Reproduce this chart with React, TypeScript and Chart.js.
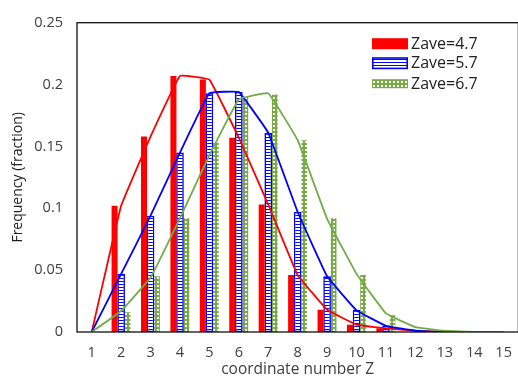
import React, { useEffect, useRef } from "react";
import { Chart, registerables } from "chart.js";

Chart.register(...registerables);

// Coordination number categories
const zLabels = ["1", "2", "3", "4", "5", "6", "7", "8", "9", "10", "11", "12", "13", "14", "15"];

// Histogram bars (fraction of particles with coordination number Z)
const barZ47 = [null, 0.102, 0.158, 0.207, 0.204, 0.157, 0.103, 0.046, 0.018, 0.0058, 0.003, null, null, null, null];
const barZ57 = [null, 0.047, 0.094, 0.145, 0.193, 0.194, 0.161, 0.097, 0.045, 0.018, 0.005, null, null, null, null];
const barZ67 = [null, 0.016, 0.045, 0.092, 0.153, 0.190, 0.192, 0.155, 0.092, 0.046, 0.0135, null, null, null, null];

// Smoothed distribution curves
const curveZ47 = [0, 0.102, 0.158, 0.207, 0.204, 0.157, 0.103, 0.046, 0.018, 0.006, 0.003, 0.001, 0, 0, 0];
const curveZ57 = [0, 0.047, 0.094, 0.145, 0.193, 0.194, 0.161, 0.097, 0.045, 0.0175, 0.005, 0.001, 0, 0, 0];
const curveZ67 = [0, 0.017, 0.044, 0.092, 0.143, 0.188, 0.193, 0.155, 0.0915, 0.047, 0.015, 0.004, 0.001, 0, 0];

const yTicks = [0, 0.05, 0.1, 0.15, 0.2, 0.25];
const seriesNames = ["Zave=4.7", "Zave=5.7", "Zave=6.7"];

const RED = "#ff0000";
const BLUE = "#0000ff";
const GREEN_BAR = "#78ab45";
const GREEN_LINE = "#70ad47";
const FONT = "'Open Sans', 'Liberation Sans', sans-serif";
const TEXT = "#404040";

function makeTile(w: number, h: number, draw: (c: CanvasRenderingContext2D) => void) {
  const cv = document.createElement("canvas");
  cv.width = w;
  cv.height = h;
  const c = cv.getContext("2d")!;
  draw(c);
  return cv;
}

// White horizontal dashes on blue
function stripePattern(ctx: CanvasRenderingContext2D) {
  const tile = makeTile(1, 3, (c) => {
    c.fillStyle = "#ffffff";
    c.fillRect(0, 0, 1, 2);
    c.fillStyle = BLUE;
    c.fillRect(0, 2, 1, 1);
  });
  return ctx.createPattern(tile, "repeat")!;
}

// Green lattice with small white holes
function checkerPattern(ctx: CanvasRenderingContext2D) {
  const tile = makeTile(4, 4, (c) => {
    c.fillStyle = GREEN_BAR;
    c.fillRect(0, 0, 4, 4);
    c.fillStyle = "#ffffff";
    c.fillRect(1, 1, 2, 2);
  });
  return ctx.createPattern(tile, "repeat")!;
}

export default function App() {
  const ref = useRef<HTMLCanvasElement | null>(null);

  useEffect(() => {
    const canvas = ref.current!;
    const ctx = canvas.getContext("2d")!;
    const stripes = stripePattern(ctx);
    const checker = checkerPattern(ctx);

    const frame = {
      id: "frame",
      afterDraw(chart: any) {
        const { ctx: c, chartArea: a } = chart;
        c.save();
        c.strokeStyle = "#111111";
        c.lineWidth = 1.3;
        c.strokeRect(a.left, a.top, a.right - a.left, a.bottom - a.top);
        c.restore();
      },
    };

    const legendBox = {
      id: "legendBox",
      afterDraw(chart: any) {
        const c: CanvasRenderingContext2D = chart.ctx;
        const a = chart.chartArea;
        const x0 = a.left + 295;
        const rows = [a.top + 21, a.top + 40.5, a.top + 61];
        c.save();
        c.fillStyle = RED;
        c.fillRect(x0, rows[0] - 5.5, 36, 11);
        c.fillStyle = stripes;
        c.fillRect(x0, rows[1] - 6, 36, 12);
        c.strokeStyle = BLUE;
        c.lineWidth = 1.6;
        c.strokeRect(x0 + 0.8, rows[1] - 5.2, 34.4, 10.4);
        c.fillStyle = checker;
        c.fillRect(x0, rows[2] - 4.5, 36, 9);
        c.fillStyle = "#222222";
        c.font = `16px ${FONT}`;
        c.textBaseline = "middle";
        c.textAlign = "left";
        seriesNames.forEach((n, i) => c.fillText(n, x0 + 39, rows[i] + 0.5));
        c.restore();
      },
    };

    const barGroup = 0.668;

    const chart = new Chart(canvas, {
      type: "bar",
      data: {
        labels: zLabels,
        datasets: [
          {
            type: "bar",
            label: seriesNames[0],
            data: barZ47 as any,
            backgroundColor: RED,
            borderWidth: 0,
            barPercentage: 0.92,
            categoryPercentage: barGroup,
            order: 10,
          },
          {
            type: "bar",
            label: seriesNames[1],
            data: barZ57 as any,
            backgroundColor: stripes,
            borderColor: BLUE,
            borderWidth: 1.6,
            borderSkipped: false,
            barPercentage: 1.17,
            categoryPercentage: barGroup,
            order: 10,
          },
          {
            type: "bar",
            label: seriesNames[2],
            data: barZ67 as any,
            backgroundColor: checker,
            borderWidth: 0,
            barPercentage: 0.86,
            categoryPercentage: barGroup,
            order: 10,
          },
          {
            type: "line",
            label: seriesNames[0] + " curve",
            data: curveZ47,
            borderColor: RED,
            borderWidth: 1.8,
            pointRadius: 0,
            tension: 0.07,
            fill: false,
            order: 3,
          },
          {
            type: "line",
            label: seriesNames[1] + " curve",
            data: curveZ57,
            borderColor: BLUE,
            borderWidth: 1.8,
            pointRadius: 0,
            tension: 0.07,
            fill: false,
            order: 2,
          },
          {
            type: "line",
            label: seriesNames[2] + " curve",
            data: curveZ67,
            borderColor: GREEN_LINE,
            borderWidth: 1.8,
            pointRadius: 0,
            tension: 0.07,
            fill: false,
            order: 1,
          },
        ],
      },
      options: {
        responsive: false,
        animation: false,
        devicePixelRatio: 1,
        layout: { padding: { top: 17, right: 2, left: 0, bottom: 0 } },
        plugins: {
          legend: { display: false },
          tooltip: { enabled: false },
        },
        scales: {
          x: {
            type: "category",
            offset: true,
            grid: { display: false, drawTicks: false },
            border: { display: false },
            ticks: {
              autoSkip: false,
              maxRotation: 0,
              padding: 12,
              color: TEXT,
              font: { family: FONT, size: 14.5 },
            },
            title: {
              display: true,
              text: "coordinate number Z",
              color: TEXT,
              font: { family: FONT, size: 15.5, lineHeight: 1 },
              padding: { top: 0, bottom: 0 },
            },
            afterFit(scale: any) {
              scale.height = 45;
            },
          },
          y: {
            min: 0,
            max: 0.25,
            grid: { display: false, drawTicks: false },
            border: { display: false },
            afterBuildTicks(scale: any) {
              scale.ticks = yTicks.map((v) => ({ value: v }));
            },
            ticks: {
              padding: 14,
              color: TEXT,
              font: { family: FONT, size: 14.5 },
              callback: (v: any) => String(Number(Number(v).toFixed(2))),
            },
            title: {
              display: true,
              text: "Frequency (fraction)",
              color: "#222222",
              font: { family: FONT, size: 14, lineHeight: 1 },
              padding: { top: 11, bottom: 0 },
            },
            afterFit(scale: any) {
              scale.width = 77;
            },
          },
        },
      },
      plugins: [frame, legendBox],
    });

    return () => chart.destroy();
  }, []);

  return (
    <div
      style={{
        position: "fixed",
        left: 0,
        top: 0,
        width: 518,
        height: 377,
        overflow: "hidden",
        background: "#ffffff",
      }}
    >
      <canvas ref={ref} width={524} height={377} style={{ display: "block", width: 524, height: 377 }} />
    </div>
  );
}
